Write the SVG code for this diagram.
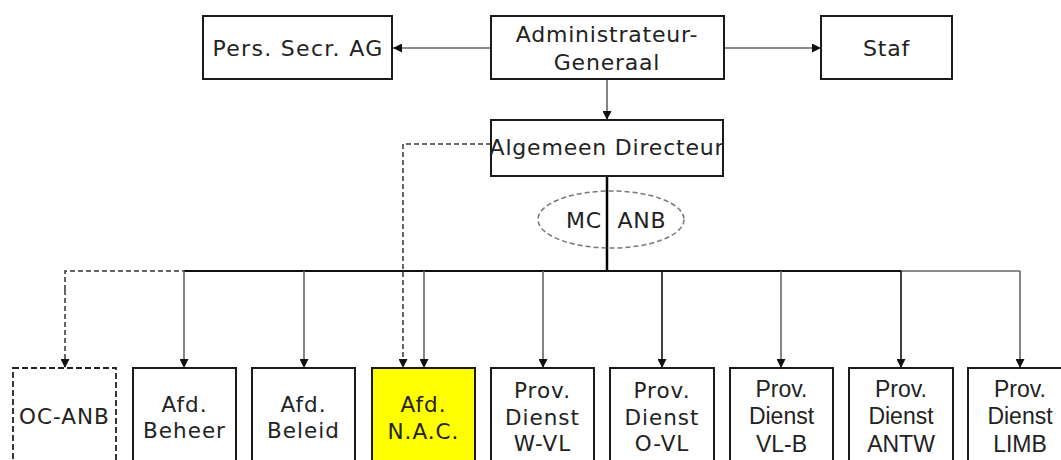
<svg xmlns="http://www.w3.org/2000/svg" width="1061" height="460" viewBox="0 0 1061 460">
<style>
.box{fill:#fff;stroke:#1a1a1a;stroke-width:2}
.t{font-family:"DejaVu Sans",Verdana,sans-serif;font-size:22px;fill:#222;text-anchor:middle;letter-spacing:0.8px}
.tb{font-family:"DejaVu Sans",Verdana,sans-serif;font-size:21.5px;fill:#222;text-anchor:middle;letter-spacing:1px}
.ta{font-family:"Liberation Sans",Arial,sans-serif;font-size:23px;fill:#222;text-anchor:middle}
.c{fill:none;stroke:#666;stroke-width:1.6}
.cd{fill:none;stroke:#111;stroke-width:1.6}
.dash{fill:none;stroke:#333;stroke-width:1.5;stroke-dasharray:5,3}
</style>
<defs>
<marker id="ah" markerWidth="9" markerHeight="9" refX="9" refY="4.5" orient="auto" markerUnits="userSpaceOnUse">
<path d="M0,0 L9,4.5 L0,9 z" fill="#111"/>
</marker>
</defs>
<g id="connectors">
<line class="c" x1="491" y1="48" x2="393" y2="48" marker-end="url(#ah)"/>
<line class="c" x1="724" y1="48" x2="821" y2="48" marker-end="url(#ah)"/>
<line class="c" x1="607" y1="79" x2="607" y2="120" marker-end="url(#ah)"/>
<line x1="607" y1="176" x2="607" y2="271" stroke="#000" stroke-width="2.5"/>
<ellipse cx="611" cy="219.5" rx="73" ry="28.5" fill="none" stroke="#777" stroke-width="1.5" stroke-dasharray="5,3"/>
<line x1="184" y1="271" x2="901" y2="271" stroke="#111" stroke-width="2.2"/>
<line x1="901" y1="271" x2="1020" y2="271" stroke="#666" stroke-width="1.6"/>
<path class="dash" d="M65,290 L65,271 L184,271" stroke="#888"/>
<path class="dash" d="M491,144 L403,144 L403,368" marker-end="url(#ah)"/>
<line class="dash" x1="65" y1="290" x2="65" y2="368" stroke="#888" marker-end="url(#ah)"/>
<line class="c" x1="184" y1="271" x2="184" y2="368" marker-end="url(#ah)"/>
<line class="c" x1="304" y1="271" x2="304" y2="368" marker-end="url(#ah)"/>
<line class="c" x1="424" y1="271" x2="424" y2="368" marker-end="url(#ah)"/>
<line class="c" x1="543" y1="271" x2="543" y2="368" marker-end="url(#ah)"/>
<line class="cd" x1="662" y1="271" x2="662" y2="368" marker-end="url(#ah)"/>
<line class="c" x1="781" y1="271" x2="781" y2="368" marker-end="url(#ah)"/>
<line class="cd" x1="901" y1="271" x2="901" y2="368" marker-end="url(#ah)"/>
<line class="c" x1="1020" y1="271" x2="1020" y2="368" marker-end="url(#ah)"/>
</g>
<g id="pers"><rect class="box" x="203" y="16" width="189" height="63"/><text class="t" x="298" y="56" style="letter-spacing:1.3px">Pers. Secr. AG</text></g>
<g id="admin"><rect class="box" x="491" y="16" width="233" height="63"/><text class="t" x="607" y="42">Administrateur-</text><text class="t" x="607" y="70">Generaal</text></g>
<g id="staf"><rect class="box" x="821" y="16" width="131" height="63"/><text class="t" x="886.5" y="56">Staf</text></g>
<g id="alg"><rect class="box" x="491" y="120" width="232" height="56"/><text class="t" x="607" y="155">Algemeen Directeur</text></g>
<g id="mc"><text class="t" x="584" y="228">MC</text><text class="t" x="642" y="228">ANB</text></g>
<g id="ocanb"><rect x="13" y="368" width="103" height="100" fill="#fff" stroke="#222" stroke-width="1.8" stroke-dasharray="6,3"/><text class="tb" x="64.5" y="424">OC-ANB</text></g>
<g id="beheer"><rect class="box" x="133" y="368" width="103" height="100"/><text class="tb" x="184.5" y="412">Afd.</text><text class="tb" x="184.5" y="438">Beheer</text></g>
<g id="beleid"><rect class="box" x="252" y="368" width="103" height="100"/><text class="tb" x="303.5" y="412">Afd.</text><text class="tb" x="303.5" y="438">Beleid</text></g>
<g id="nac"><rect class="box" x="372" y="368" width="103" height="100" style="fill:#ffff00"/><text class="tb" x="423.5" y="412">Afd.</text><text class="tb" x="423.5" y="439">N.A.C.</text></g>
<g id="wvl"><rect class="box" x="491" y="368" width="103" height="100"/><text class="tb" x="542.5" y="398">Prov.</text><text class="tb" x="542.5" y="425">Dienst</text><text class="tb" x="542.5" y="451">W-VL</text></g>
<g id="ovl"><rect class="box" x="610" y="368" width="104" height="100"/><text class="tb" x="662" y="398">Prov.</text><text class="tb" x="662" y="425">Dienst</text><text class="tb" x="662" y="451">O-VL</text></g>
<g id="vlb"><rect class="box" x="730" y="368" width="103" height="100"/><text class="ta" x="781.5" y="397">Prov.</text><text class="ta" x="781.5" y="424">Dienst</text><text class="ta" x="781.5" y="452">VL-B</text></g>
<g id="antw"><rect class="box" x="849" y="368" width="104" height="100"/><text class="ta" x="901" y="397">Prov.</text><text class="ta" x="901" y="424">Dienst</text><text class="ta" x="901" y="452">ANTW</text></g>
<g id="limb"><rect class="box" x="968" y="368" width="104" height="100"/><text class="ta" x="1020" y="397">Prov.</text><text class="ta" x="1020" y="424">Dienst</text><text class="ta" x="1020" y="452">LIMB</text></g>
</svg>
